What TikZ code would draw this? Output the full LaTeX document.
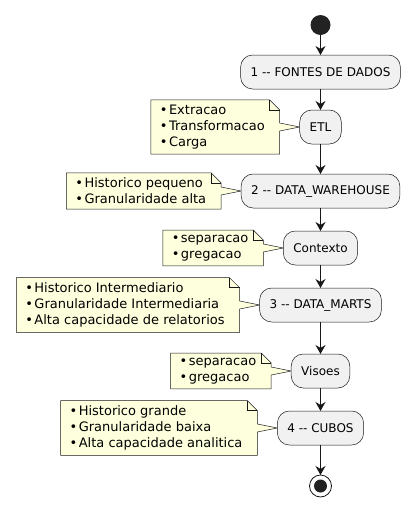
\documentclass[tikz,border=0pt]{standalone}
\usepackage{fontspec}
\setmainfont{DejaVu Sans}
\usetikzlibrary{arrows.meta, positioning, calc, backgrounds}

\definecolor{stepfill}{HTML}{F1F1F1}
\definecolor{notefill}{HTML}{FEFFDD}
\definecolor{umlline}{HTML}{181818}
\definecolor{dotfill}{HTML}{222222}

\newcommand{\bul}{•\hspace{1.5pt}}

% note outline with folded corner, pointing at its step
\newcommand{\notelink}[2]{%
  \begin{pgfonlayer}{background}
  \draw[notebox] (#1.north west) -- ($(#1.north east)+(-4pt,0)$) -- ($(#1.north east)+(6pt,-10pt)$) -- ($(#1.east)+(6pt,4pt)$) -- (#2.west) -- ($(#1.east)+(6pt,-4pt)$) -- ($(#1.south east)+(6pt,0)$) -- (#1.south west) -- cycle;
  \draw[notebox, fill=none] ($(#1.north east)+(-4pt,0)$) -- ($(#1.north east)+(-4pt,-10pt)$) -- ($(#1.north east)+(6pt,-10pt)$);
  \end{pgfonlayer}
}

\tikzset{
  stepbox/.style={rectangle, rounded corners=12pt, draw=umlline, line width=0.5pt, fill=stepfill, inner xsep=10pt, minimum height=34pt, outer sep=0pt, font=\fontsize{12pt}{14pt}\selectfont},
  notetext/.style={rectangle, inner xsep=9pt, inner ysep=5pt, outer sep=0pt, align=left, font=\fontsize{13pt}{16pt}\selectfont},
  notebox/.style={draw=umlline, line width=0.5pt, fill=notefill, line join=miter},
  flow/.style={->, draw=umlline, line width=1pt},
}

\begin{document}
\begin{tikzpicture}[node distance=20pt, >={Stealth[length=9pt, width=10pt, inset=3pt]}]
\useasboundingbox (0,0) rectangle (420pt,-517pt);

% Start and steps
\node[circle, fill=dotfill, minimum size=20pt, inner sep=0pt, outer sep=0pt] (start) at (320.5pt,-25pt) {};
\node[stepbox, below=20pt of start] (step1) {1 -{}- FONTES DE DADOS};
\node[stepbox, below=21pt of step1] (etl) {ETL};
\node[stepbox, below=30pt of etl] (step2) {2 -{}- DATA\_WAREHOUSE};
\node[stepbox, below=23pt of step2] (contexto) {Contexto};
\node[stepbox, below=23pt of contexto] (step3) {3 -{}- DATA\_MARTS};
\node[stepbox, below=32pt of step3] (visoes) {Visoes};
\node[stepbox, below=23pt of visoes] (step4) {4 -{}- CUBOS};
\node[circle, draw=umlline, line width=0.8pt, fill=white, minimum size=22pt, inner sep=0pt, outer sep=0pt, below=30pt of step4] (stop) {};
\node[circle, fill=dotfill, minimum size=13pt, inner sep=0pt] (stopdot) at (stop.center) {};

% Arrows between steps
\draw[flow] (start) -- (step1);
\draw[flow] (step1) -- (etl);
\draw[flow] (etl) -- (step2);
\draw[flow] (step2) -- (contexto);
\draw[flow] (contexto) -- (step3);
\draw[flow] (step3) -- (visoes);
\draw[flow] (visoes) -- (step4);
\draw[flow] (step4) -- (stop);

% Notes
\node[notetext, left=26pt of etl] (note1) {\bul Extracao\\ \bul Transformacao\\ \bul Carga};
\node[notetext, left=26pt of step2] (note2) {\bul Historico pequeno\\ \bul Granularidade alta};
\node[notetext, left=26pt of contexto] (note3) {\bul separacao\\ \bul gregacao};
\node[notetext, left=26pt of step3] (note4) {\bul Historico Intermediario\\ \bul Granularidade Intermediaria\\ \bul Alta capacidade de relatorios};
\node[notetext, left=26pt of visoes] (note5) {\bul separacao\\ \bul gregacao};
\node[notetext, left=26pt of step4] (note6) {\bul Historico grande\\ \bul Granularidade baixa\\ \bul Alta capacidade analitica};

\notelink{note1}{etl}
\notelink{note2}{step2}
\notelink{note3}{contexto}
\notelink{note4}{step3}
\notelink{note5}{visoes}
\notelink{note6}{step4}
\end{tikzpicture}
\end{document}
